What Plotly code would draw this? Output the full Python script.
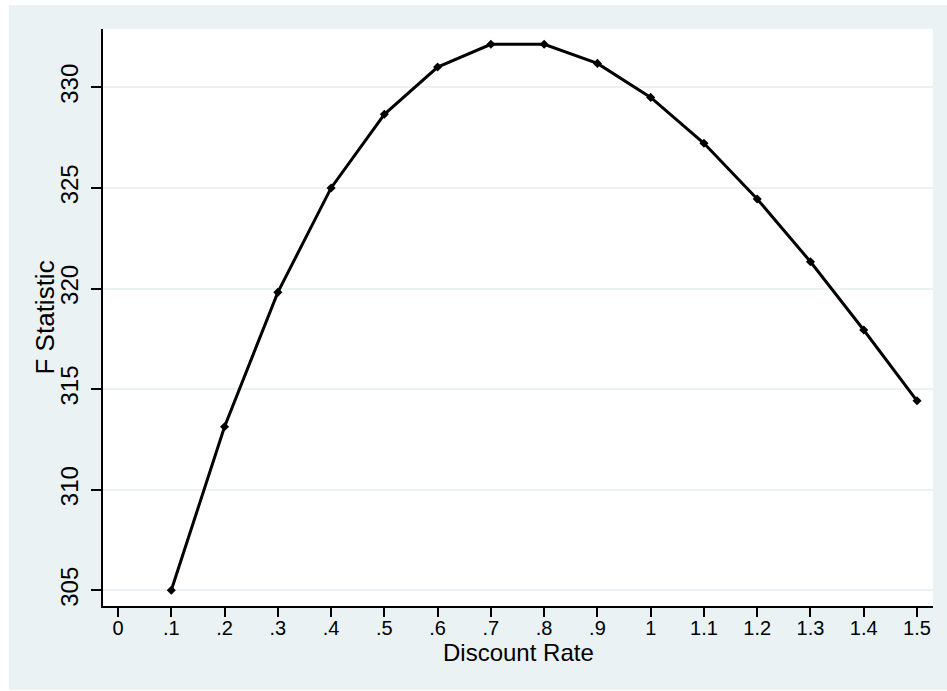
import plotly.graph_objects as go

# Data
discount_rate = [0.1, 0.2, 0.3, 0.4, 0.5, 0.6, 0.7, 0.8, 0.9, 1.0, 1.1, 1.2, 1.3, 1.4, 1.5]
f_statistic = [305.0, 313.13, 319.81, 325.0, 328.66, 331.01, 332.14, 332.14,
               331.19, 329.50, 327.22, 324.45, 321.33, 317.94, 314.42]
x_tick_vals = [0, 0.1, 0.2, 0.3, 0.4, 0.5, 0.6, 0.7, 0.8, 0.9, 1.0, 1.1, 1.2, 1.3, 1.4, 1.5]
x_tick_text = ["0", ".1", ".2", ".3", ".4", ".5", ".6", ".7", ".8", ".9", "1",
               "1.1", "1.2", "1.3", "1.4", "1.5"]
y_tick_vals = [305, 310, 315, 320, 325, 330]
y_tick_text = ["305", "310", "315", "320", "325", "330"]

W, H = 947, 691
L, R, T, B = 103, 14, 29, 85
pw, ph = W - L - R, H - T - B

def px_x(p):
    return (p - L) / pw

def px_y(p):
    return (H - B - p) / ph

BG = "rgb(234,242,243)"
FONT = "Liberation Sans, Arial, sans-serif"

fig = go.Figure()
fig.add_trace(go.Scatter(
    x=discount_rate, y=f_statistic, mode="lines+markers",
    line=dict(color="black", width=3),
    marker=dict(symbol="diamond", size=7, color="black"),
    showlegend=False,
))

fig.update_layout(
    width=W, height=H,
    margin=dict(l=L, r=R, t=T, b=B, pad=0),
    paper_bgcolor=BG, plot_bgcolor="white",
    font=dict(family=FONT, color="black"),
    xaxis=dict(
        range=[-0.0282, 1.530], tickvals=x_tick_vals, ticktext=x_tick_text,
        showgrid=False, zeroline=False, showline=True, linecolor="black", linewidth=1.5,
        ticks="outside", ticklen=9, tickwidth=1.5, tickcolor="black",
        ticklabelstandoff=-6,
        tickfont=dict(size=20, family=FONT, color="black"),
    ),
    yaxis=dict(
        range=[304.22, 332.90], tickvals=y_tick_vals, ticktext=y_tick_text,
        showgrid=True, gridcolor=BG, gridwidth=1.5, zeroline=False,
        showline=True, linecolor="black", linewidth=1.5,
        ticks="outside", ticklen=10, tickwidth=1.5, tickcolor="black",
        tickangle=-90, ticklabelstandoff=4,
        tickfont=dict(size=24, family=FONT, color="black"),
    ),
    annotations=[
        dict(text="Discount Rate", xref="paper", yref="paper", x=0.5, y=px_y(652),
             xanchor="center", yanchor="middle", showarrow=False,
             font=dict(size=24, family=FONT, color="black")),
        dict(text="F Statistic", xref="paper", yref="paper", x=px_x(44), y=0.5,
             xanchor="center", yanchor="middle", textangle=-90, showarrow=False,
             font=dict(size=26, family=FONT, color="black")),
    ],
    shapes=[
        dict(type="rect", xref="paper", yref="paper", layer="above",
             x0=px_x(-5), x1=px_x(9), y0=px_y(H + 5), y1=px_y(-5),
             fillcolor="white", line=dict(width=0)),
        dict(type="rect", xref="paper", yref="paper", layer="above",
             x0=px_x(-5), x1=px_x(W + 5), y0=px_y(5), y1=px_y(-5),
             fillcolor="white", line=dict(width=0)),
        dict(type="rect", xref="paper", yref="paper", layer="above",
             x0=px_x(-5), x1=px_x(W + 5), y0=px_y(H + 5), y1=px_y(690),
             fillcolor="white", line=dict(width=0)),
    ],
)

fig.write_html("out.html")
